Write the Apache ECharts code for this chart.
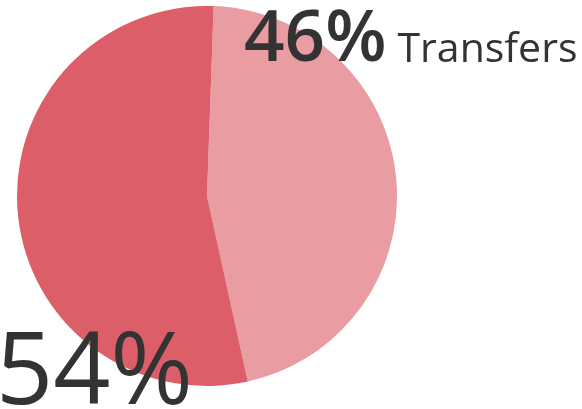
<!DOCTYPE html>
<html>
<head>
<meta charset="utf-8">
<script src="https://cdn.jsdelivr.net/npm/echarts@6/dist/echarts.min.js"></script>
<style>
  html, body { margin: 0; padding: 0; background: #fff; }
  #main { width: 582px; height: 409px; }
</style>
</head>
<body>
<div id="main"></div>
<script>
var names = ['Transfers', 'Other'];
var values = [46, 54];
var showName = [true, false];
var colors = ['#e99ca2', '#dc5e68'];

var myChart = echarts.init(document.getElementById('main'));

var pieData = values.map(function (v, i) {
    return {
        name: names[i],
        value: v,
        itemStyle: { color: colors[i] },
        label: {
            formatter: showName[i] ? '{p|{d}%}{n|{b}}' : '{big|{d}%}'
        }
    };
});

// where each label sits (bottom-left corner of the text box)
var labelPos = [
    { x: 244, y: 76 },
    { x: -4, y: 426 }
];

var option = {
    animation: false,
    series: [
        {
            type: 'pie',
            center: [207, 196],
            radius: 190,
            startAngle: 88,
            avoidLabelOverlap: false,
            labelLine: { show: false },
            label: {
                show: true,
                color: '#333',
                fontFamily: 'Open Sans',
                rich: {
                    p: { fontSize: 71, fontWeight: 600, color: '#333', fontFamily: 'Open Sans', lineHeight: 72, verticalAlign: 'bottom' },
                    n: { fontSize: 41, fontWeight: 400, color: '#333', fontFamily: 'Open Sans', lineHeight: 42, verticalAlign: 'bottom', padding: [0, 0, 5, 11] },
                    big: { fontSize: 100, fontWeight: 400, color: '#333', fontFamily: 'Open Sans', lineHeight: 100 }
                }
            },
            labelLayout: function (params) {
                var p = labelPos[params.dataIndex];
                return { x: p.x, y: p.y, align: 'left', verticalAlign: 'bottom' };
            },
            data: pieData
        }
    ]
};

myChart.setOption(option);
</script>
</body>
</html>
